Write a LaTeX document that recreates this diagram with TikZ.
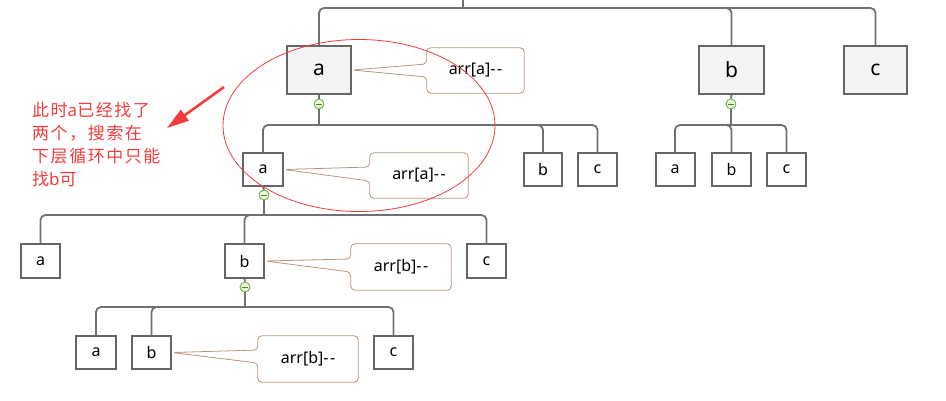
\documentclass[tikz,border=0pt]{standalone}
\usepackage{fontspec}
\setmainfont{Noto Sans}
\newfontfamily\cjk[LetterSpace=9]{Noto Sans CJK SC}
\usepackage{tikz}
\usetikzlibrary{positioning,arrows.meta}

\definecolor{linegray}{HTML}{707070}
\definecolor{boxgray}{HTML}{666666}
\definecolor{topfill}{HTML}{F4F4F4}
\definecolor{foldgreen}{HTML}{5FA83A}
\definecolor{foldfill}{HTML}{EAF6DD}
\definecolor{notebrown}{HTML}{BA947C}
\definecolor{markred}{HTML}{F23C3C}

\begin{document}
\begin{tikzpicture}[x=1pt, y=-1pt, >=Stealth]
  \tikzstyle{topbox}=[rectangle, draw=boxgray, line width=2pt, fill=topfill, inner sep=0pt, minimum width=64pt, minimum height=48pt, font=\fontsize{21}{24}\selectfont]
  \tikzstyle{box}=[rectangle, draw=boxgray, line width=2pt, fill=white, inner sep=0pt, minimum width=39pt, minimum height=33pt, font=\fontsize{16}{18}\selectfont]
  \tikzstyle{fold}=[circle, draw=foldgreen, fill=foldfill, line width=0.8pt, inner sep=0pt, minimum size=10pt,
    path picture={\draw[foldgreen!80!black, line width=1pt] ([xshift=-3pt]path picture bounding box.center) -- ([xshift=3pt]path picture bounding box.center);}]
  \tikzstyle{branch}=[draw=linegray, line width=1.8pt, rounded corners=5pt]
  \tikzstyle{note}=[inner sep=0pt, minimum width=97pt, minimum height=45pt, font=\fontsize{16}{18}\selectfont]
  \tikzstyle{noteline}=[draw=notebrown, line width=0.8pt, rounded corners=4pt, line join=round]
  \tikzstyle{memo}=[text=markred, align=left, inner sep=0pt, font=\cjk\fontsize{17}{23}\selectfont]

  \useasboundingbox (0,0) rectangle (946,400);

  % top level
  \node[topbox] (ta) at (319,70) {a};
  \node[topbox, minimum width=65pt] (tb) at (731.5,70) {b};
  \node[topbox, minimum width=63pt] (tc) at (875.5,70) {c};
  \node[fold] (f1) at (319,104) {};
  \node[fold] (f2) at (731,104) {};

  % second level
  \node[box, minimum width=40pt] (aa) at (263,169.5) {a};
  \node[box, minimum width=38pt] (ab) at (543,169.5) {b};
  \node[box] (ac) at (597.5,169.5) {c};
  \node[box] (ba) at (675,169.5) {a};
  \node[box] (bb) at (731.5,169.5) {b};
  \node[box] (bc) at (786.5,169.5) {c};
  \node[fold] (f3) at (264,195) {};

  % third level
  \node[box, minimum height=34pt] (aaa) at (40.5,261) {a};
  \node[box, minimum height=34pt] (aab) at (244.5,261) {b};
  \node[box, minimum height=34pt] (aac) at (486.5,261) {c};
  \node[fold] (f4) at (245,287) {};

  % fourth level
  \node[box, minimum width=40pt] (aaba) at (96,352.5) {a};
  \node[box] (aabb) at (151.5,352.5) {b};
  \node[box] (aabc) at (393.5,352.5) {c};

  % junctions
  \coordinate (root) at (463,-2);
  \coordinate (j0) at (463,8);
  \coordinate (j1) at (319,125);
  \coordinate (j2) at (731,125);
  \coordinate (j3) at (264,215);
  \coordinate (j4) at (245,307);

  \draw[branch] (root) -- (j0);
  \draw[branch] (j0) -| (ta.north);
  \draw[branch] (j0) -| (tb.north);
  \draw[branch] (j0) -| (tc.north);

  \draw[branch] (ta.south) -- (f1.north);
  \draw[branch] (f1.south) -- (j1);
  \draw[branch] (j1) -| (aa.north);
  \draw[branch] (j1) -| (ab.north);
  \draw[branch] (j1) -| (ac.north);

  \draw[branch] (tb.south) -- (f2.north);
  \draw[branch] (f2.south) -- (j2);
  \draw[branch] (j2) -| (ba.north);
  \draw[branch] (j2) -| (bb.north);
  \draw[branch] (j2) -| (bc.north);

  \draw[branch] (aa.south) -- (f3.north);
  \draw[branch] (f3.south) -- (j3);
  \draw[branch] (j3) -| (aaa.north);
  \draw[branch] (j3) -| (aab.north);
  \draw[branch] (j3) -| (aac.north);

  \draw[branch] (aab.south) -- (f4.north);
  \draw[branch] (f4.south) -- (j4);
  \draw[branch] (j4) -| (aaba.north);
  \draw[branch] (j4) -| (aabb.north);
  \draw[branch] (j4) -| (aabc.north);

  % notes
  \node[note] (n1) at (475.5,70.5) {arr[a]-\hspace{1.5pt}-};
  \node[note, minimum width=98pt] (n2) at (419,175.5) {arr[a]-\hspace{1.5pt}-};
  \node[note, minimum width=100pt, minimum height=46pt] (n3) at (401,267) {arr[b]-\hspace{1.5pt}-};
  \node[note, minimum width=100pt, minimum height=46pt] (n4) at (308,359) {arr[b]-\hspace{1.5pt}-};

  \draw[noteline] ([yshift=-6.5pt]n1.west) -- (ta.east) -- ([yshift=6.5pt]n1.west) -- (n1.north west) -- (n1.north east) -- (n1.south east) -- (n1.south west) -- cycle;
  \draw[noteline] ([yshift=-5.5pt]n2.west) -- (aa.east) -- ([yshift=8.5pt]n2.west) -- (n2.north west) -- (n2.north east) -- (n2.south east) -- (n2.south west) -- cycle;
  \draw[noteline] ([yshift=-5pt]n3.west) -- (aab.east) -- ([yshift=8pt]n3.west) -- (n3.north west) -- (n3.north east) -- (n3.south east) -- (n3.south west) -- cycle;
  \draw[noteline] ([yshift=-4pt]n4.west) -- (aabb.east) -- ([yshift=9pt]n4.west) -- (n4.north west) -- (n4.north east) -- (n4.south east) -- (n4.south west) -- cycle;

  % remark
  \coordinate (ring) at (359,125.5);
  \draw[markred, line width=0.8pt] (ring) ellipse [x radius=136, y radius=86];
  \coordinate (tail) at (224,87);
  \coordinate (tip) at (167,128);
  \draw[markred, line width=2.6pt, -{Triangle[length=22pt, width=13pt]}] (tail) -- (tip);
  \node[memo, anchor=north west] (memo) at (32,102) {此时{\normalfont\bfseries a}已经找了\\两个，搜索在\\下层循环中只能\\找{\normalfont\bfseries b}可};
\end{tikzpicture}
\end{document}
